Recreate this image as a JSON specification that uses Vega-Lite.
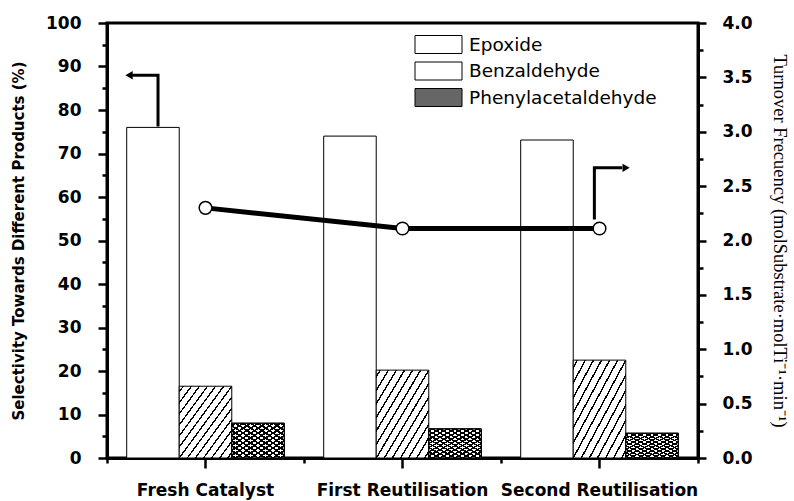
{
  "$schema": "https://vega.github.io/schema/vega-lite/v6.json",
  "width": 591,
  "height": 435,
  "autosize": "none",
  "padding": {"left": 107, "top": 23, "right": 96, "bottom": 43},
  "background": "white",
  "config": {
    "view": {"stroke": "black", "strokeWidth": 3},
    "axis": {"grid": false, "domainColor": "black", "domainWidth": 3, "tickColor": "black", "tickWidth": 2.5, "labelColor": "black", "titleColor": "black"}
  },
  "datasets": {
    "sel": [
      {"catalyst": "Fresh Catalyst", "product": "Epoxide", "selectivity": 76.0},
      {"catalyst": "Fresh Catalyst", "product": "Benzaldehyde", "selectivity": 16.5},
      {"catalyst": "Fresh Catalyst", "product": "Phenylacetaldehyde", "selectivity": 8.0},
      {"catalyst": "First Reutilisation", "product": "Epoxide", "selectivity": 74.0},
      {"catalyst": "First Reutilisation", "product": "Benzaldehyde", "selectivity": 20.2},
      {"catalyst": "First Reutilisation", "product": "Phenylacetaldehyde", "selectivity": 6.7},
      {"catalyst": "Second Reutilisation", "product": "Epoxide", "selectivity": 73.1},
      {"catalyst": "Second Reutilisation", "product": "Benzaldehyde", "selectivity": 22.5},
      {"catalyst": "Second Reutilisation", "product": "Phenylacetaldehyde", "selectivity": 5.7}
    ],
    "tof": [
      {"catalyst": "Fresh Catalyst", "reuses": 0, "tof": 2.30},
      {"catalyst": "First Reutilisation", "reuses": 1, "tof": 2.11},
      {"catalyst": "Second Reutilisation", "reuses": 2, "tof": 2.11}
    ],
    "arrows": [
      {"arrow": "left", "step": 1, "ax": 0.259, "ay": 76.2},
      {"arrow": "left", "step": 2, "ax": 0.259, "ay": 88},
      {"arrow": "left", "step": 3, "ax": 0.125, "ay": 88},
      {"arrow": "right", "step": 1, "ax": 2.474, "ay": 54.8},
      {"arrow": "right", "step": 2, "ax": 2.474, "ay": 66.7},
      {"arrow": "right", "step": 3, "ax": 2.615, "ay": 66.7}
    ],
    "heads": [
      {"dir": "left", "hx": 0.112, "hy": 88},
      {"dir": "right", "hx": 2.635, "hy": 66.7}
    ]
  },
  "layer": [
    {
      "data": {"name": "sel"},
      "mark": {"type": "bar", "stroke": "black", "strokeWidth": 1},
      "encoding": {
        "x": {"field": "catalyst", "type": "nominal",
          "scale": {"type": "band", "domain": ["Fresh Catalyst", "First Reutilisation", "Second Reutilisation"], "paddingInner": 0, "paddingOuter": 0},
          "axis": {"orient": "bottom", "title": null, "labelAngle": 0, "labelFont": "DejaVu Sans", "labelFontWeight": "bold", "labelFontSize": 17, "labelPadding": 14, "tickSize": 10, "labelLimit": 0}},
        "xOffset": {"field": "product", "type": "nominal",
          "scale": {"domain": ["Epoxide", "Benzaldehyde", "Phenylacetaldehyde"], "paddingInner": 0, "paddingOuter": 0.375}},
        "y": {"field": "selectivity", "type": "quantitative",
          "scale": {"domain": [0, 100], "nice": false},
          "axis": {"orient": "left", "values": [0, 10, 20, 30, 40, 50, 60, 70, 80, 90, 100], "tickSize": 9, "labelFont": "DejaVu Sans", "labelFontWeight": "bold", "labelFontSize": 17, "labelPadding": 17,
            "title": "Selectivity Towards Different Products (%)", "titleFont": "DejaVu Sans", "titleFontWeight": "bold", "titleFontSize": 15, "titlePadding": 19}},
        "fill": {"field": "product", "type": "nominal",
          "scale": {"domain": ["Epoxide", "Benzaldehyde", "Phenylacetaldehyde"], "range": ["white", "white", "#666666"]},
          "condition": [
            {"test": "datum.product === 'Benzaldehyde'", "value": {"gradient": "linear", "x1": 0, "y1": 0, "x2": 1, "y2": 1, "stops": [
              {"offset": 0, "color": "white"},
              {"offset": 0.0308, "color": "white"}, {"offset": 0.0308, "color": "black"}, {"offset": 0.0462, "color": "black"}, {"offset": 0.0462, "color": "white"},
              {"offset": 0.1077, "color": "white"}, {"offset": 0.1077, "color": "black"}, {"offset": 0.1231, "color": "black"}, {"offset": 0.1231, "color": "white"},
              {"offset": 0.1846, "color": "white"}, {"offset": 0.1846, "color": "black"}, {"offset": 0.2, "color": "black"}, {"offset": 0.2, "color": "white"},
              {"offset": 0.2615, "color": "white"}, {"offset": 0.2615, "color": "black"}, {"offset": 0.2769, "color": "black"}, {"offset": 0.2769, "color": "white"},
              {"offset": 0.3385, "color": "white"}, {"offset": 0.3385, "color": "black"}, {"offset": 0.3538, "color": "black"}, {"offset": 0.3538, "color": "white"},
              {"offset": 0.4154, "color": "white"}, {"offset": 0.4154, "color": "black"}, {"offset": 0.4308, "color": "black"}, {"offset": 0.4308, "color": "white"},
              {"offset": 0.4923, "color": "white"}, {"offset": 0.4923, "color": "black"}, {"offset": 0.5077, "color": "black"}, {"offset": 0.5077, "color": "white"},
              {"offset": 0.5692, "color": "white"}, {"offset": 0.5692, "color": "black"}, {"offset": 0.5846, "color": "black"}, {"offset": 0.5846, "color": "white"},
              {"offset": 0.6462, "color": "white"}, {"offset": 0.6462, "color": "black"}, {"offset": 0.6615, "color": "black"}, {"offset": 0.6615, "color": "white"},
              {"offset": 0.7231, "color": "white"}, {"offset": 0.7231, "color": "black"}, {"offset": 0.7385, "color": "black"}, {"offset": 0.7385, "color": "white"},
              {"offset": 0.8, "color": "white"}, {"offset": 0.8, "color": "black"}, {"offset": 0.8154, "color": "black"}, {"offset": 0.8154, "color": "white"},
              {"offset": 0.8769, "color": "white"}, {"offset": 0.8769, "color": "black"}, {"offset": 0.8923, "color": "black"}, {"offset": 0.8923, "color": "white"},
              {"offset": 0.9538, "color": "white"}, {"offset": 0.9538, "color": "black"}, {"offset": 0.9692, "color": "black"}, {"offset": 0.9692, "color": "white"},
              {"offset": 1, "color": "white"}
            ]}},
            {"test": "datum.product === 'Phenylacetaldehyde'", "value": {"gradient": "linear", "x1": 1, "y1": 0, "x2": 0, "y2": 1, "stops": [
              {"offset": 0, "color": "white"},
              {"offset": 0.0214, "color": "white"}, {"offset": 0.0214, "color": "black"}, {"offset": 0.05, "color": "black"}, {"offset": 0.05, "color": "white"},
              {"offset": 0.0929, "color": "white"}, {"offset": 0.0929, "color": "black"}, {"offset": 0.1214, "color": "black"}, {"offset": 0.1214, "color": "white"},
              {"offset": 0.1643, "color": "white"}, {"offset": 0.1643, "color": "black"}, {"offset": 0.1929, "color": "black"}, {"offset": 0.1929, "color": "white"},
              {"offset": 0.2357, "color": "white"}, {"offset": 0.2357, "color": "black"}, {"offset": 0.2643, "color": "black"}, {"offset": 0.2643, "color": "white"},
              {"offset": 0.3071, "color": "white"}, {"offset": 0.3071, "color": "black"}, {"offset": 0.3357, "color": "black"}, {"offset": 0.3357, "color": "white"},
              {"offset": 0.3786, "color": "white"}, {"offset": 0.3786, "color": "black"}, {"offset": 0.4071, "color": "black"}, {"offset": 0.4071, "color": "white"},
              {"offset": 0.45, "color": "white"}, {"offset": 0.45, "color": "black"}, {"offset": 0.4786, "color": "black"}, {"offset": 0.4786, "color": "white"},
              {"offset": 0.5214, "color": "white"}, {"offset": 0.5214, "color": "black"}, {"offset": 0.55, "color": "black"}, {"offset": 0.55, "color": "white"},
              {"offset": 0.5929, "color": "white"}, {"offset": 0.5929, "color": "black"}, {"offset": 0.6214, "color": "black"}, {"offset": 0.6214, "color": "white"},
              {"offset": 0.6643, "color": "white"}, {"offset": 0.6643, "color": "black"}, {"offset": 0.6929, "color": "black"}, {"offset": 0.6929, "color": "white"},
              {"offset": 0.7357, "color": "white"}, {"offset": 0.7357, "color": "black"}, {"offset": 0.7643, "color": "black"}, {"offset": 0.7643, "color": "white"},
              {"offset": 0.8071, "color": "white"}, {"offset": 0.8071, "color": "black"}, {"offset": 0.8357, "color": "black"}, {"offset": 0.8357, "color": "white"},
              {"offset": 0.8786, "color": "white"}, {"offset": 0.8786, "color": "black"}, {"offset": 0.9071, "color": "black"}, {"offset": 0.9071, "color": "white"},
              {"offset": 0.95, "color": "white"}, {"offset": 0.95, "color": "black"}, {"offset": 0.9786, "color": "black"}, {"offset": 0.9786, "color": "white"},
              {"offset": 1, "color": "white"}
            ]}}
          ],
          "legend": {
            "orient": "none", "legendX": 321, "legendY": 11, "title": null, "padding": 0,
            "symbolType": "M-2.35,-0.9H2.35V0.9H-2.35Z", "symbolSize": 400, "symbolStrokeColor": "black", "symbolStrokeWidth": 1,
            "labelFont": "DejaVu Sans", "labelFontSize": 18.5, "labelColor": "black", "labelOffset": 20, "rowPadding": 3.5, "labelLimit": 0,
            "encode": {"symbols": {"update": {
              "fill": {
                "condition": [
                  {"test": "datum.value === 'Benzaldehyde'", "value": {"gradient": "linear", "x1": 0, "y1": 0, "x2": 1, "y2": 0.37, "stops": [
                    {"offset": 0, "color": "white"},
                    {"offset": 0.08, "color": "white"}, {"offset": 0.08, "color": "black"}, {"offset": 0.12, "color": "black"}, {"offset": 0.12, "color": "white"},
                    {"offset": 0.28, "color": "white"}, {"offset": 0.28, "color": "black"}, {"offset": 0.32, "color": "black"}, {"offset": 0.32, "color": "white"},
                    {"offset": 0.48, "color": "white"}, {"offset": 0.48, "color": "black"}, {"offset": 0.52, "color": "black"}, {"offset": 0.52, "color": "white"},
                    {"offset": 0.68, "color": "white"}, {"offset": 0.68, "color": "black"}, {"offset": 0.72, "color": "black"}, {"offset": 0.72, "color": "white"},
                    {"offset": 0.88, "color": "white"}, {"offset": 0.88, "color": "black"}, {"offset": 0.92, "color": "black"}, {"offset": 0.92, "color": "white"},
                    {"offset": 1, "color": "white"}
                  ]}},
                  {"test": "datum.value === 'Phenylacetaldehyde'", "value": "#6a6a6a"}
                ],
                "value": "white"
              },
              "stroke": {"value": "black"}
            }}}
          }
        }
      }
    },
    {
      "data": {"name": "sel"},
      "transform": [{"filter": "datum.product === 'Phenylacetaldehyde'"}],
      "mark": {"type": "bar", "stroke": "black", "strokeWidth": 1, "fill": {"gradient": "linear", "x1": 0, "y1": 0, "x2": 1, "y2": 1, "stops": [
        {"offset": 0, "color": "rgba(0,0,0,0)"},
        {"offset": 0.0214, "color": "rgba(0,0,0,0)"}, {"offset": 0.0214, "color": "black"}, {"offset": 0.05, "color": "black"}, {"offset": 0.05, "color": "rgba(0,0,0,0)"},
        {"offset": 0.0929, "color": "rgba(0,0,0,0)"}, {"offset": 0.0929, "color": "black"}, {"offset": 0.1214, "color": "black"}, {"offset": 0.1214, "color": "rgba(0,0,0,0)"},
        {"offset": 0.1643, "color": "rgba(0,0,0,0)"}, {"offset": 0.1643, "color": "black"}, {"offset": 0.1929, "color": "black"}, {"offset": 0.1929, "color": "rgba(0,0,0,0)"},
        {"offset": 0.2357, "color": "rgba(0,0,0,0)"}, {"offset": 0.2357, "color": "black"}, {"offset": 0.2643, "color": "black"}, {"offset": 0.2643, "color": "rgba(0,0,0,0)"},
        {"offset": 0.3071, "color": "rgba(0,0,0,0)"}, {"offset": 0.3071, "color": "black"}, {"offset": 0.3357, "color": "black"}, {"offset": 0.3357, "color": "rgba(0,0,0,0)"},
        {"offset": 0.3786, "color": "rgba(0,0,0,0)"}, {"offset": 0.3786, "color": "black"}, {"offset": 0.4071, "color": "black"}, {"offset": 0.4071, "color": "rgba(0,0,0,0)"},
        {"offset": 0.45, "color": "rgba(0,0,0,0)"}, {"offset": 0.45, "color": "black"}, {"offset": 0.4786, "color": "black"}, {"offset": 0.4786, "color": "rgba(0,0,0,0)"},
        {"offset": 0.5214, "color": "rgba(0,0,0,0)"}, {"offset": 0.5214, "color": "black"}, {"offset": 0.55, "color": "black"}, {"offset": 0.55, "color": "rgba(0,0,0,0)"},
        {"offset": 0.5929, "color": "rgba(0,0,0,0)"}, {"offset": 0.5929, "color": "black"}, {"offset": 0.6214, "color": "black"}, {"offset": 0.6214, "color": "rgba(0,0,0,0)"},
        {"offset": 0.6643, "color": "rgba(0,0,0,0)"}, {"offset": 0.6643, "color": "black"}, {"offset": 0.6929, "color": "black"}, {"offset": 0.6929, "color": "rgba(0,0,0,0)"},
        {"offset": 0.7357, "color": "rgba(0,0,0,0)"}, {"offset": 0.7357, "color": "black"}, {"offset": 0.7643, "color": "black"}, {"offset": 0.7643, "color": "rgba(0,0,0,0)"},
        {"offset": 0.8071, "color": "rgba(0,0,0,0)"}, {"offset": 0.8071, "color": "black"}, {"offset": 0.8357, "color": "black"}, {"offset": 0.8357, "color": "rgba(0,0,0,0)"},
        {"offset": 0.8786, "color": "rgba(0,0,0,0)"}, {"offset": 0.8786, "color": "black"}, {"offset": 0.9071, "color": "black"}, {"offset": 0.9071, "color": "rgba(0,0,0,0)"},
        {"offset": 0.95, "color": "rgba(0,0,0,0)"}, {"offset": 0.95, "color": "black"}, {"offset": 0.9786, "color": "black"}, {"offset": 0.9786, "color": "rgba(0,0,0,0)"},
        {"offset": 1, "color": "rgba(0,0,0,0)"}
      ]}},
      "encoding": {
        "x": {"field": "catalyst", "type": "nominal",
          "scale": {"type": "band", "domain": ["Fresh Catalyst", "First Reutilisation", "Second Reutilisation"], "paddingInner": 0, "paddingOuter": 0},
          "axis": null},
        "xOffset": {"field": "product", "type": "nominal",
          "scale": {"domain": ["Epoxide", "Benzaldehyde", "Phenylacetaldehyde"], "paddingInner": 0, "paddingOuter": 0.375}},
        "y": {"field": "selectivity", "type": "quantitative", "scale": {"domain": [0, 100], "nice": false}, "axis": null}
      }
    },
    {
      "data": {"name": "tof"},
      "mark": {"type": "line", "color": "black", "strokeWidth": 5},
      "encoding": {
        "x": {"field": "catalyst", "type": "nominal",
          "scale": {"type": "point", "padding": 0.5, "domain": ["Fresh Catalyst", "First Reutilisation", "Second Reutilisation"]},
          "axis": null},
        "y": {"field": "tof", "type": "quantitative", "scale": {"domain": [0, 4], "nice": false},
          "axis": {"orient": "right", "values": [0, 0.5, 1, 1.5, 2, 2.5, 3, 3.5, 4], "format": ".1f", "tickSize": 8, "labelFont": "DejaVu Sans", "labelFontWeight": "bold", "labelFontSize": 17, "labelPadding": 16,
            "title": "Turnover Frecuency (molSubstrate·molTi⁻¹·min⁻¹)", "titleFont": "Liberation Serif", "titleFontWeight": "normal", "titleFontSize": 18.5, "titlePadding": 17}},
        "order": {"field": "reuses", "type": "quantitative"}
      }
    },
    {
      "data": {"name": "tof"},
      "mark": {"type": "circle", "fill": "white", "stroke": "black", "strokeWidth": 1.5, "size": 160, "opacity": 1},
      "encoding": {
        "x": {"field": "catalyst", "type": "nominal",
          "scale": {"type": "point", "padding": 0.5, "domain": ["Fresh Catalyst", "First Reutilisation", "Second Reutilisation"]},
          "axis": null},
        "y": {"field": "tof", "type": "quantitative", "scale": {"domain": [0, 4], "nice": false},
          "axis": {"orient": "right", "values": [0.25, 0.75, 1.25, 1.75, 2.25, 2.75, 3.25, 3.75], "tickSize": 5, "labels": false, "domain": false, "title": null}}
      }
    },
    {
      "data": {"name": "arrows"},
      "mark": {"type": "line", "color": "black", "strokeWidth": 3},
      "encoding": {
        "x": {"field": "ax", "type": "quantitative", "scale": {"domain": [0, 3], "nice": false, "zero": false},
          "axis": {"orient": "bottom", "values": [0, 1, 2, 3], "tickSize": 5, "labels": false, "domain": false, "title": null}},
        "y": {"field": "ay", "type": "quantitative", "scale": {"domain": [0, 100], "nice": false},
          "axis": {"orient": "left", "values": [5, 15, 25, 35, 45, 55, 65, 75, 85, 95], "tickSize": 5, "labels": false, "domain": false, "title": null}},
        "detail": {"field": "arrow"},
        "order": {"field": "step", "type": "quantitative"}
      }
    },
    {
      "data": {"name": "heads"},
      "mark": {"type": "point", "filled": true, "color": "black", "size": 70, "opacity": 1},
      "encoding": {
        "x": {"field": "hx", "type": "quantitative", "scale": {"domain": [0, 3], "nice": false, "zero": false}, "axis": null},
        "y": {"field": "hy", "type": "quantitative", "scale": {"domain": [0, 100], "nice": false}, "axis": null},
        "shape": {"field": "dir", "type": "nominal", "scale": {"domain": ["left", "right"], "range": ["triangle-left", "triangle-right"]}, "legend": null}
      }
    }
  ],
  "resolve": {
    "scale": {"x": "independent", "y": "independent", "xOffset": "independent"},
    "axis": {"x": "independent", "y": "independent"}
  }
}
